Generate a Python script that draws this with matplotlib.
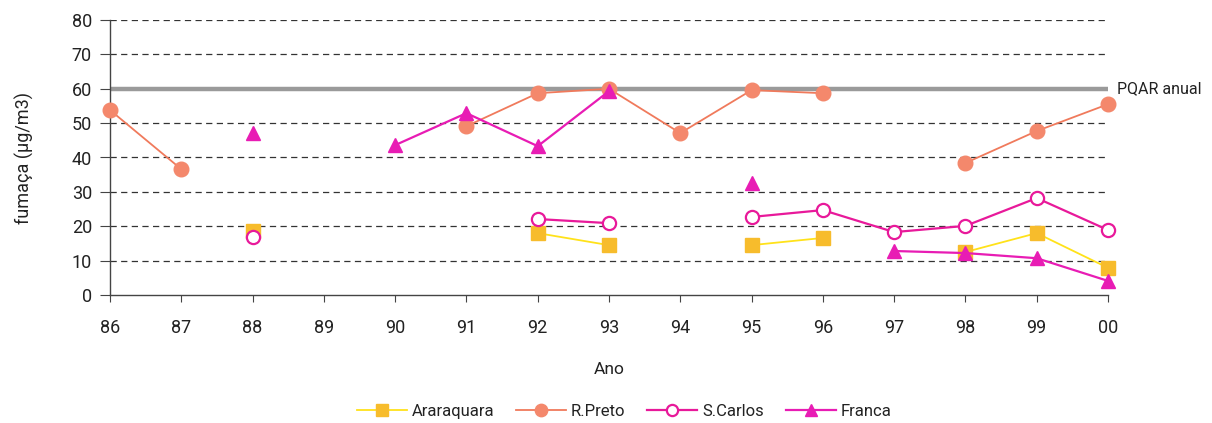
import numpy as np
import matplotlib
matplotlib.use("Agg")
import matplotlib.pyplot as plt

plt.rcParams['font.family'] = ['Roboto', 'DejaVu Sans']

years = ['86', '87', '88', '89', '90', '91', '92', '93', '94', '95', '96', '97', '98', '99', '00']
nan = np.nan
araraquara = [nan, nan, 18.5, nan, nan, nan, 18.0, 14.5, nan, 14.5, 16.6, nan, 12.5, 18.0, 7.9]
rpreto = [53.8, 36.6, nan, nan, nan, 49.1, 58.7, 60.0, 47.1, 59.6, 58.7, nan, 38.4, 47.7, 55.5]
scarlos = [nan, nan, 16.8, nan, nan, nan, 22.1, 20.9, nan, 22.7, 24.7, 18.3, 20.1, 28.2, 18.9]
franca = [nan, nan, 47.0, nan, 43.6, 52.9, 43.3, 59.3, nan, 32.6, nan, 12.8, 12.2, 10.7, 4.1]
pqar = 60
pqar_label = 'PQAR anual'

fig = plt.figure(figsize=(12.12, 4.23), dpi=100)
ax = fig.add_axes([110/1212, 1-295/423, (1108-110)/1212, (295-20)/423])

x = np.arange(len(years))
for yv in range(10, 90, 10):
    if yv == pqar:
        continue
    ax.axhline(yv, color='#333333', lw=0.9, linestyle=(0, (5, 3.5)), zorder=1)
ax.axhline(pqar, color='#9a9a9a', lw=3.2, zorder=2)
ax.text(len(years) - 1 + 0.13, pqar, pqar_label, va='center', ha='left', fontsize=11.5, color='#222222')

ax.plot(x, araraquara, color='#FFE21A', lw=1.3, marker='s', ms=9.5, mfc='#F7BC2C', mec='#F7BC2C',
        label='Araraquara', zorder=3, clip_on=False)
ax.plot(x, rpreto, color='#F07A5C', lw=1.3, marker='o', ms=10.5, mfc='#F4886C', mec='#F4886C',
        label='R.Preto', zorder=4, clip_on=False)
ax.plot(x, scarlos, color='#E8199A', lw=1.6, marker='o', ms=9.5, mfc='white', mec='#E8199A', mew=1.6,
        label='S.Carlos', zorder=5, clip_on=False)
ax.plot(x, franca, color='#E81CB4', lw=1.6, marker='^', ms=10, mfc='#E81CB4', mec='#E81CB4',
        label='Franca', zorder=6, clip_on=False)

ax.set_xlim(0, len(years) - 1)
ax.set_ylim(0, 80)
ax.set_xticks(x)
ax.set_xticklabels(years)
ax.set_yticks(range(0, 90, 10))
for s in ['top', 'right']:
    ax.spines[s].set_visible(False)
for s in ['left', 'bottom']:
    ax.spines[s].set_color('#444444')
    ax.spines[s].set_linewidth(1.0)
ax.tick_params(axis='x', length=5, pad=12, labelsize=13, color='#444444', labelcolor='#222222')
ax.tick_params(axis='y', length=7, pad=6, labelsize=13, color='#444444', labelcolor='#222222')
ax.set_xlabel('Ano', fontsize=12.5, labelpad=18, color='#222222')
ax.set_ylabel('fumaça (µg/m3)', fontsize=13, labelpad=27, color='#222222')

handles, labels = ax.get_legend_handles_labels()
fig.legend(handles, labels, loc='center', bbox_to_anchor=(0.515, 1-411/423), ncol=4, frameon=False,
           fontsize=12, handlelength=3.0, columnspacing=1.3, handletextpad=0.3, markerscale=0.85,
           labelcolor='#222222')

fig.savefig('out.png', dpi=100)
